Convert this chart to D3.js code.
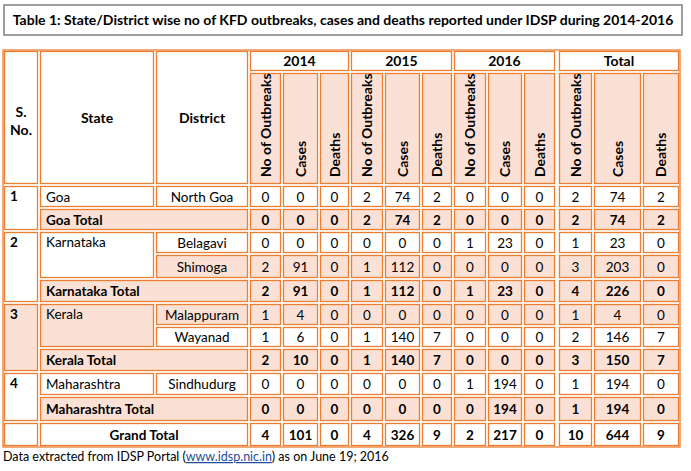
<!DOCTYPE html>
<html><head><meta charset="utf-8">
<script src="https://cdn.jsdelivr.net/npm/d3@7"></script>
<style>body{margin:0;background:#fff;font-family:Lato,"Noto Sans",sans-serif}</style>
</head><body><svg id="c" width="691" height="471"></svg>
<script>
const years = ["2014","2015","2016","Total"];
const subHeads = ["No of Outbreaks","Cases","Deaths"];
const states = ["Goa","Karnataka","Kerala","Maharashtra"];
const districts = [["North Goa"],["Belagavi","Shimoga"],["Malappuram","Wayanad"],["Sindhudurg"]];
// per district: outbreaks, cases, deaths for 2014, 2015, 2016, total
const districtValues = [
  [[0,0,0, 2,74,2, 0,0,0, 2,74,2]],
  [[0,0,0, 0,0,0, 1,23,0, 1,23,0],[2,91,0, 1,112,0, 0,0,0, 3,203,0]],
  [[1,4,0, 0,0,0, 0,0,0, 1,4,0],[1,6,0, 1,140,7, 0,0,0, 2,146,7]],
  [[0,0,0, 0,0,0, 1,194,0, 1,194,0]]
];
const stateTotals = [
  [0,0,0, 2,74,2, 0,0,0, 2,74,2],
  [2,91,0, 1,112,0, 1,23,0, 4,226,0],
  [2,10,0, 1,140,7, 0,0,0, 3,150,7],
  [0,0,0, 0,0,0, 0,194,0, 1,194,0]
];
const grandTotal = [4,101,0, 4,326,9, 2,217,0, 10,644,9];
const peachDistricts = [[false],[false,true],[true,false],[false]];

const svg = d3.select("#c");
const ORANGE = "#ED7D31", PEACH = "#FBE1D5";

// column edges (x)
const colEdges = [3,39,155,249,282,319,350,384,421,453,487,523,556,558,593,642,680];
const rowEdges = [50,72,185,208,231,254,279,303,326,348,372,396,422,447];
const x = d3.scaleOrdinal().domain(d3.range(colEdges.length)).range(colEdges);
const y = d3.scaleOrdinal().domain(d3.range(rowEdges.length)).range(rowEdges);
const valueCol = i => i < 9 ? 3 + i : 4 + i; // skip gap column

function cell(c0,c1,r0,r1,fill,text,opt={}){
  const x0=x(c0),x1=x(c1),y0=y(r0),y1=y(r1);
  svg.append("rect").attr("x",x0+1.5).attr("y",y0+1.5)
    .attr("width",x1-x0-3).attr("height",y1-y0-3)
    .attr("fill",fill).attr("stroke",ORANGE).attr("stroke-width",1.3);
  if(text==null) return;
  const t = svg.append("text").text(text)
    .attr("font-size",opt.size||13.5).attr("font-weight",opt.bold?"bold":"normal").attr("fill","#000");
  if(opt.rotate){
    t.attr("transform",`translate(${(x0+x1)/2+5},${y1-8}) rotate(-90)`).attr("text-anchor","start");
  } else {
    const anchor = opt.anchor||"middle";
    const tx = anchor==="start"?x0+7:(x0+x1)/2;
    const ty = opt.top? y0+16 : (y0+y1)/2+5;
    t.attr("x",tx).attr("y",ty).attr("text-anchor",anchor);
  }
}

// title
svg.append("rect").attr("x",4).attr("y",5).attr("width",678).attr("height",30)
  .attr("fill","#fff").attr("stroke","#7f7f7f").attr("stroke-width",1.5);
svg.append("text").attr("x",343).attr("y",25).attr("text-anchor","middle")
  .attr("font-size",14).attr("font-weight","bold")
  .text("Table 1: State/District wise no of KFD outbreaks, cases and deaths reported under IDSP during 2014-2016");

// outer frame
svg.append("rect").attr("x",3).attr("y",50).attr("width",677).attr("height",397)
  .attr("fill","none").attr("stroke",ORANGE).attr("stroke-width",1.3);

// header
cell(0,1,0,2,"#fff",null);
svg.append("text").attr("x",21).attr("y",y(1)+45).attr("text-anchor","middle").attr("font-size",14).attr("font-weight","bold").text("S.");
svg.append("text").attr("x",21).attr("y",y(1)+63).attr("text-anchor","middle").attr("font-size",14).attr("font-weight","bold").text("No.");
cell(1,2,0,2,"#fff","State",{bold:true,size:14});
cell(2,3,0,2,"#fff","District",{bold:true,size:14});
years.forEach((yr,k)=>{
  const c0 = valueCol(k*3);
  cell(c0,c0+3,0,1,"#fff",yr,{bold:true,size:14});
  subHeads.forEach((s,j)=>cell(c0+j,c0+j+1,1,2,PEACH,s,{bold:true,rotate:true,size:14}));
});

// body
let r = 2;
const snoLabels = ["1","2","3","4"];
states.forEach((st,i)=>{
  const n = districts[i].length;
  const snoFill = i===2 ? PEACH : "#fff";
  cell(0,1,r,r+n+1,snoFill,snoLabels[i],{bold:true,anchor:"start",top:true});
  cell(1,2,r,r+n,i===2?PEACH:"#fff",st,{anchor:"start",top:n>1});
  districts[i].forEach((d,j)=>{
    const f = peachDistricts[i][j]?PEACH:"#fff";
    cell(2,3,r+j,r+j+1,f,d);
    districtValues[i][j].forEach((v,k)=>cell(valueCol(k),valueCol(k)+1,r+j,r+j+1,f,v));
  });
  r += n;
  cell(1,3,r,r+1,PEACH,st+" Total",{bold:true,anchor:"start"});
  stateTotals[i].forEach((v,k)=>cell(valueCol(k),valueCol(k)+1,r,r+1,PEACH,v,{bold:true}));
  r += 1;
});
cell(0,1,r,r+1,"#fff",null);
cell(1,3,r,r+1,"#fff","Grand Total",{bold:true});
grandTotal.forEach((v,k)=>cell(valueCol(k),valueCol(k)+1,r,r+1,"#fff",v,{bold:true}));

// footnote
const f = svg.append("text").attr("x",3).attr("y",461).attr("font-size",12.5);
f.append("tspan").text("Data extracted from IDSP Portal (");
f.append("tspan").attr("fill","#1F4E9A").attr("text-decoration","underline").text("www.idsp.nic.in");
f.append("tspan").text(") as on June 19; 2016");
</script></body></html>
